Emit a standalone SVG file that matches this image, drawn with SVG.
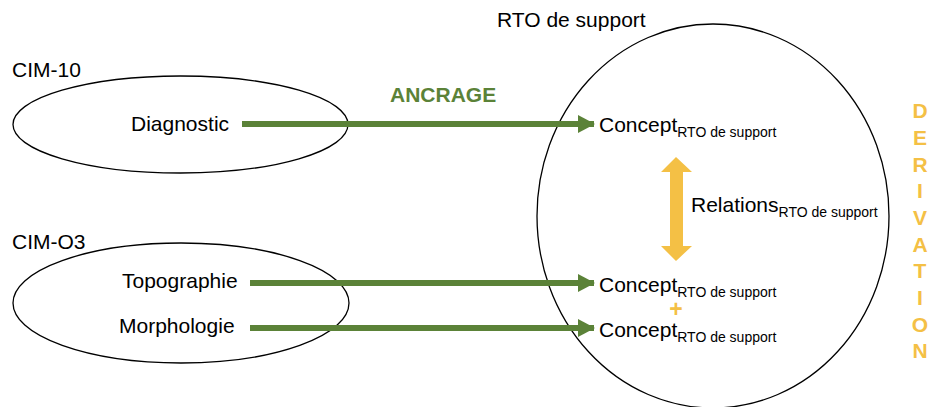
<svg xmlns="http://www.w3.org/2000/svg" width="928" height="407" viewBox="0 0 928 407">
<style>
.t{font-family:"Liberation Sans",Arial,sans-serif;font-size:21px;fill:#000}
.s{font-size:14px}
.sh{fill:none;stroke:#000;stroke-width:1.3}
.g{stroke:#5B8238;stroke-width:6;fill:none}
.anc{font-family:"Liberation Sans",Arial,sans-serif;font-size:21px;font-weight:bold;fill:#5B8238}
.der{font-family:"Liberation Sans",Arial,sans-serif;font-size:21px;font-weight:bold;fill:#F4C045}
</style>
<defs>
<marker id="ah" markerUnits="userSpaceOnUse" markerWidth="17" markerHeight="18" refX="16" refY="9" orient="auto">
<path d="M0,0 L17,9 L0,18 Z" fill="#5B8238"/>
</marker>
</defs>
<g id="cim10">
<ellipse class="sh" cx="180.5" cy="124.5" rx="167.5" ry="48.5"/>
<text class="t" x="12" y="77">CIM-10</text>
<text class="t" x="131" y="131">Diagnostic</text>
</g>
<g id="cimo3">
<ellipse class="sh" cx="181" cy="303" rx="168" ry="60"/>
<text class="t" x="12" y="249">CIM-O3</text>
<text class="t" x="122" y="288">Topographie</text>
<text class="t" x="119" y="333">Morphologie</text>
</g>
<g id="rto">
<ellipse class="sh" cx="713" cy="216" rx="176" ry="192"/>
<text class="t" x="497" y="27">RTO de support</text>
<text class="t" x="599" y="132">Concept<tspan class="s" dy="5">RTO de support</tspan></text>
<text class="t" x="691" y="212">Relations<tspan class="s" dy="5">RTO de support</tspan></text>
<text class="t" x="599" y="292">Concept<tspan class="s" dy="5">RTO de support</tspan></text>
<text class="t" x="599" y="337">Concept<tspan class="s" dy="5">RTO de support</tspan></text>
<text class="der" x="676" y="317" text-anchor="middle" style="font-size:23px">+</text>
</g>
<g id="derivation">
<text class="der" text-anchor="middle"><tspan x="920" y="118">D</tspan><tspan x="920" y="145">E</tspan><tspan x="920" y="172">R</tspan><tspan x="920" y="198">I</tspan><tspan x="920" y="225">V</tspan><tspan x="920" y="252">A</tspan><tspan x="920" y="278">T</tspan><tspan x="920" y="305">I</tspan><tspan x="920" y="332">O</tspan><tspan x="920" y="358">N</tspan></text>
</g>
<g id="connectors">
<line class="g" x1="242" y1="124" x2="594" y2="124" marker-end="url(#ah)"/>
<line class="g" x1="250" y1="283" x2="594" y2="283" marker-end="url(#ah)"/>
<line class="g" x1="250" y1="328" x2="594" y2="328" marker-end="url(#ah)"/>
<polygon points="676,157 692,172 683,172 683,246 692,246 676,261 661,246 670,246 670,172 661,172" fill="#F4C045"/>
<text class="anc" x="390" y="102">ANCRAGE</text>
</g>
</svg>
